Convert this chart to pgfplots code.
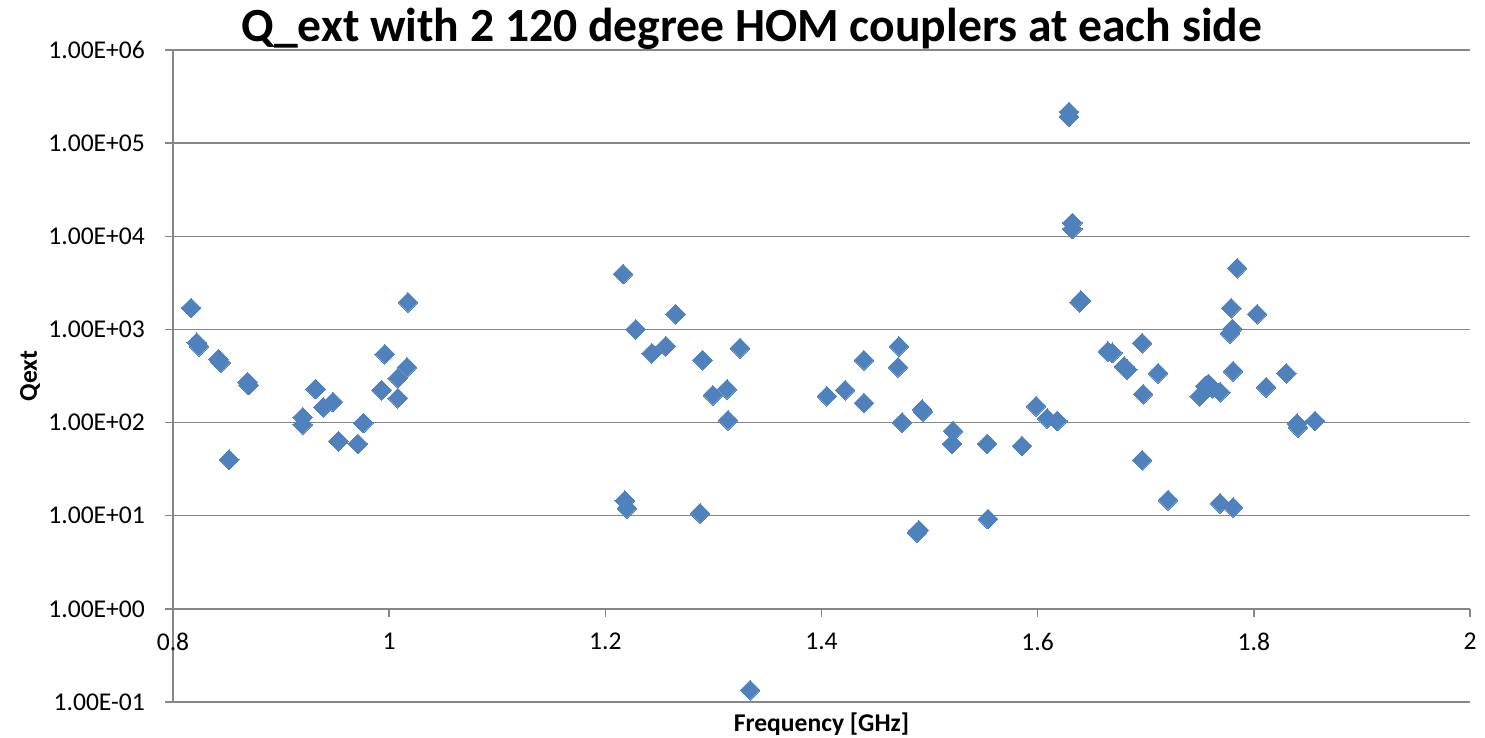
\documentclass[border=0pt]{standalone}
\usepackage{fontspec}
\setmainfont{Carlito}
\usepackage{pgfplots}
\pgfplotsset{compat=1.18}
\definecolor{excelblue}{HTML}{4F81BD}
\definecolor{gridgray}{HTML}{868686}
\begin{document}
\begin{tikzpicture}
\begin{axis}[
  scale only axis, width=648.5pt, height=326pt,
  ymode=log, xmin=0.8, xmax=2, ymin=0.1, ymax=1e6,
  axis x line*=middle, axis y line*=left,
  hide obscured x ticks=false,
  axis line style={gridgray, line width=0.75pt, -},
  ymajorgrids, grid style={gridgray, line width=0.75pt},
  ytick={1e-1,1e0,1e1,1e2,1e3,1e4,1e5,1e6},
  yticklabels={1.00E-01,1.00E+00,1.00E+01,1.00E+02,1.00E+03,1.00E+04,1.00E+05,1.00E+06},
  xtick={0.8,1,1.2,1.4,1.6,1.8,2},
  xticklabels={0.8,1,1.2,1.4,1.6,1.8,2},
  yminorticks=false,
  tick align=outside, major tick length=4pt,
  tick style={gridgray, line width=0.75pt},
  ticklabel style={font=\fontsize{12.8}{15}\selectfont},
  xticklabel style={yshift=-4.5pt},
  yticklabel style={xshift=-6.5pt},
  /pgf/number format/assume math mode=true,
  title={Q\_ext with 2 120 degree HOM couplers at each side},
  title style={font=\fontsize{23.8}{26}\bfseries\selectfont, at={(axis description cs:0.4464,1)}, anchor=base, yshift=-2pt},
  xlabel={Frequency [GHz]},
  xlabel style={font=\fontsize{12.8}{15}\bfseries\selectfont, at={(axis description cs:0.5,0)}, anchor=north, yshift=-2pt},
  ylabel={Qext},
  ylabel style={font=\fontsize{12.8}{15}\bfseries\selectfont, at={(axis description cs:0,0.5)}, anchor=center, yshift=71.5pt},
]
\addplot[only marks, mark=square*, mark size=3.5pt, mark options={rotate=45, fill=excelblue, draw=excelblue, line width=0pt}, color=excelblue] coordinates {
(0.8167,1700) (0.8220,720) (0.8240,660) (0.8420,480) (0.8440,440)
(0.8520,40) (0.8690,272) (0.8700,253) (0.9200,114) (0.9200,95)
(0.9320,229) (0.9390,146) (0.9480,166) (0.9530,63) (0.9710,59)
(0.9760,99) (0.9930,223) (0.9960,543) (1.0080,183) (1.0080,300)
(1.0165,393) (1.0174,1960)
(1.2164,3930) (1.2180,14.5) (1.2200,12) (1.2280,1000) (1.2430,556)
(1.2560,660) (1.2650,1460) (1.2876,10.6) (1.2900,468) (1.2996,197)
(1.3126,228) (1.3135,106) (1.3246,630) (1.3339,0.134)
(1.4050,192) (1.4218,223) (1.4393,162) (1.4393,468) (1.4708,393)
(1.4717,660) (1.4745,100) (1.4884,6.6) (1.4900,7.0) (1.4930,138)
(1.4940,132) (1.5208,59) (1.5217,81) (1.5532,59) (1.5540,9.2)
(1.5855,56) (1.5985,150) (1.6087,111) (1.6180,104)
(1.6290,216000) (1.6290,192000) (1.6320,13900) (1.6320,12000)
(1.6390,1960) (1.6400,2050) (1.6650,580) (1.6690,560) (1.6800,400)
(1.6830,370) (1.6966,713) (1.6975,202) (1.6966,39.5) (1.7114,339)
(1.7206,14.7) (1.7500,192) (1.7549,246) (1.7580,260) (1.7620,234)
(1.7688,212) (1.7688,13.6) (1.7780,910) (1.7800,1010) (1.7790,1690)
(1.7808,356) (1.7808,12.3) (1.7845,4550) (1.8030,1460) (1.8113,240)
(1.8300,339) (1.8400,97) (1.8409,89) (1.8566,104)
};
\end{axis}
\pgfresetboundingbox
\useasboundingbox (-86.5pt,-18pt) rectangle (656pt,351pt);
\end{tikzpicture}
\end{document}
